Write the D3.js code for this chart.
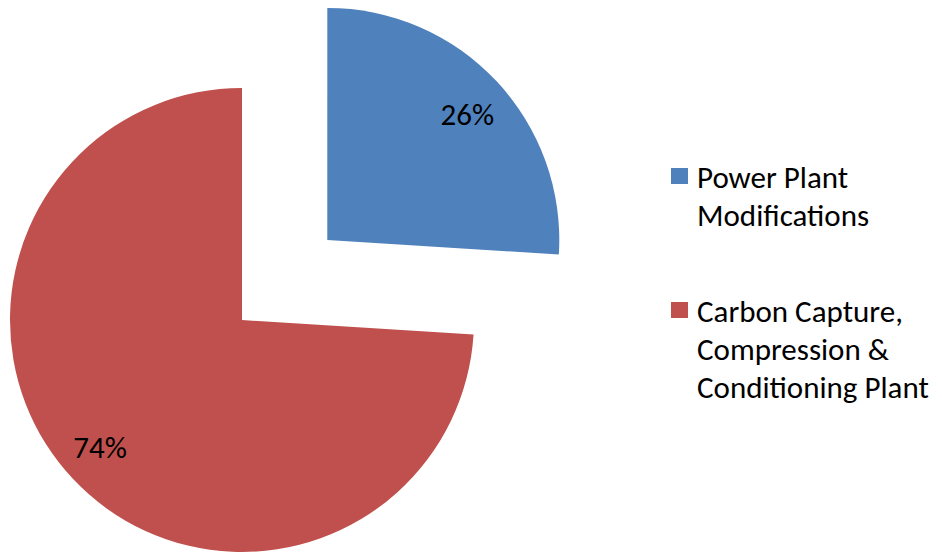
<!DOCTYPE html>
<html><head><meta charset="utf-8">
<script src="https://cdn.jsdelivr.net/npm/d3@7"></script>
<style>body{margin:0;background:#fff}svg{display:block}text{font-family:Carlito,Calibri,Lato,sans-serif;fill:#000}</style>
</head><body>
<script>
const categories = ["Power Plant Modifications", "Carbon Capture, Compression & Conditioning Plant"];
const legendLines = [["Power Plant", "Modifications"], ["Carbon Capture,", "Compression &", "Conditioning Plant"]];
const values = [26, 74];
const colors = ["#4F81BD", "#C0504D"];
const explode = [117, 0];

const W = 942, H = 554;
const svg = d3.select("body").append("svg").attr("width", W).attr("height", H);
const cx = 242, cy = 320, R = 232;
const pie = d3.pie().sort(null).value(d => d)(values);
const arc = d3.arc().innerRadius(0).outerRadius(R);
const labelArc = d3.arc().innerRadius(R * 0.81).outerRadius(R * 0.81);
const fs = 31;

const g = svg.append("g").attr("transform", `translate(${cx},${cy})`);
const slices = g.selectAll("g.s").data(pie).enter().append("g")
  .attr("transform", (d, i) => {
    const a = (d.startAngle + d.endAngle) / 2;
    return `translate(${explode[i] * Math.sin(a)},${-explode[i] * Math.cos(a)})`;
  });
slices.append("path").attr("d", arc).attr("fill", (d, i) => colors[i]);
slices.append("text")
  .attr("transform", (d, i) => {
    const c = labelArc.centroid(d);
    return `translate(${c[0] + (i === 0 ? 3 : -5)},${c[1] + (i === 0 ? 3 : -2)})`;
  })
  .attr("text-anchor", "middle").attr("dominant-baseline", "central")
  .style("font-size", fs + "px")
  .text(d => d.value + "%");

const legY = [177, 311];
const lg = svg.append("g");
legendLines.forEach((lines, i) => {
  lg.append("rect").attr("x", 671).attr("y", legY[i] - 9).attr("width", 17).attr("height", 16).attr("fill", colors[i]);
  lines.forEach((t, j) => {
    lg.append("text").attr("x", 697).attr("y", legY[i] + j * 38)
      .attr("dominant-baseline", "central").style("font-size", fs + "px").text(t);
  });
});
</script>
</body></html>
